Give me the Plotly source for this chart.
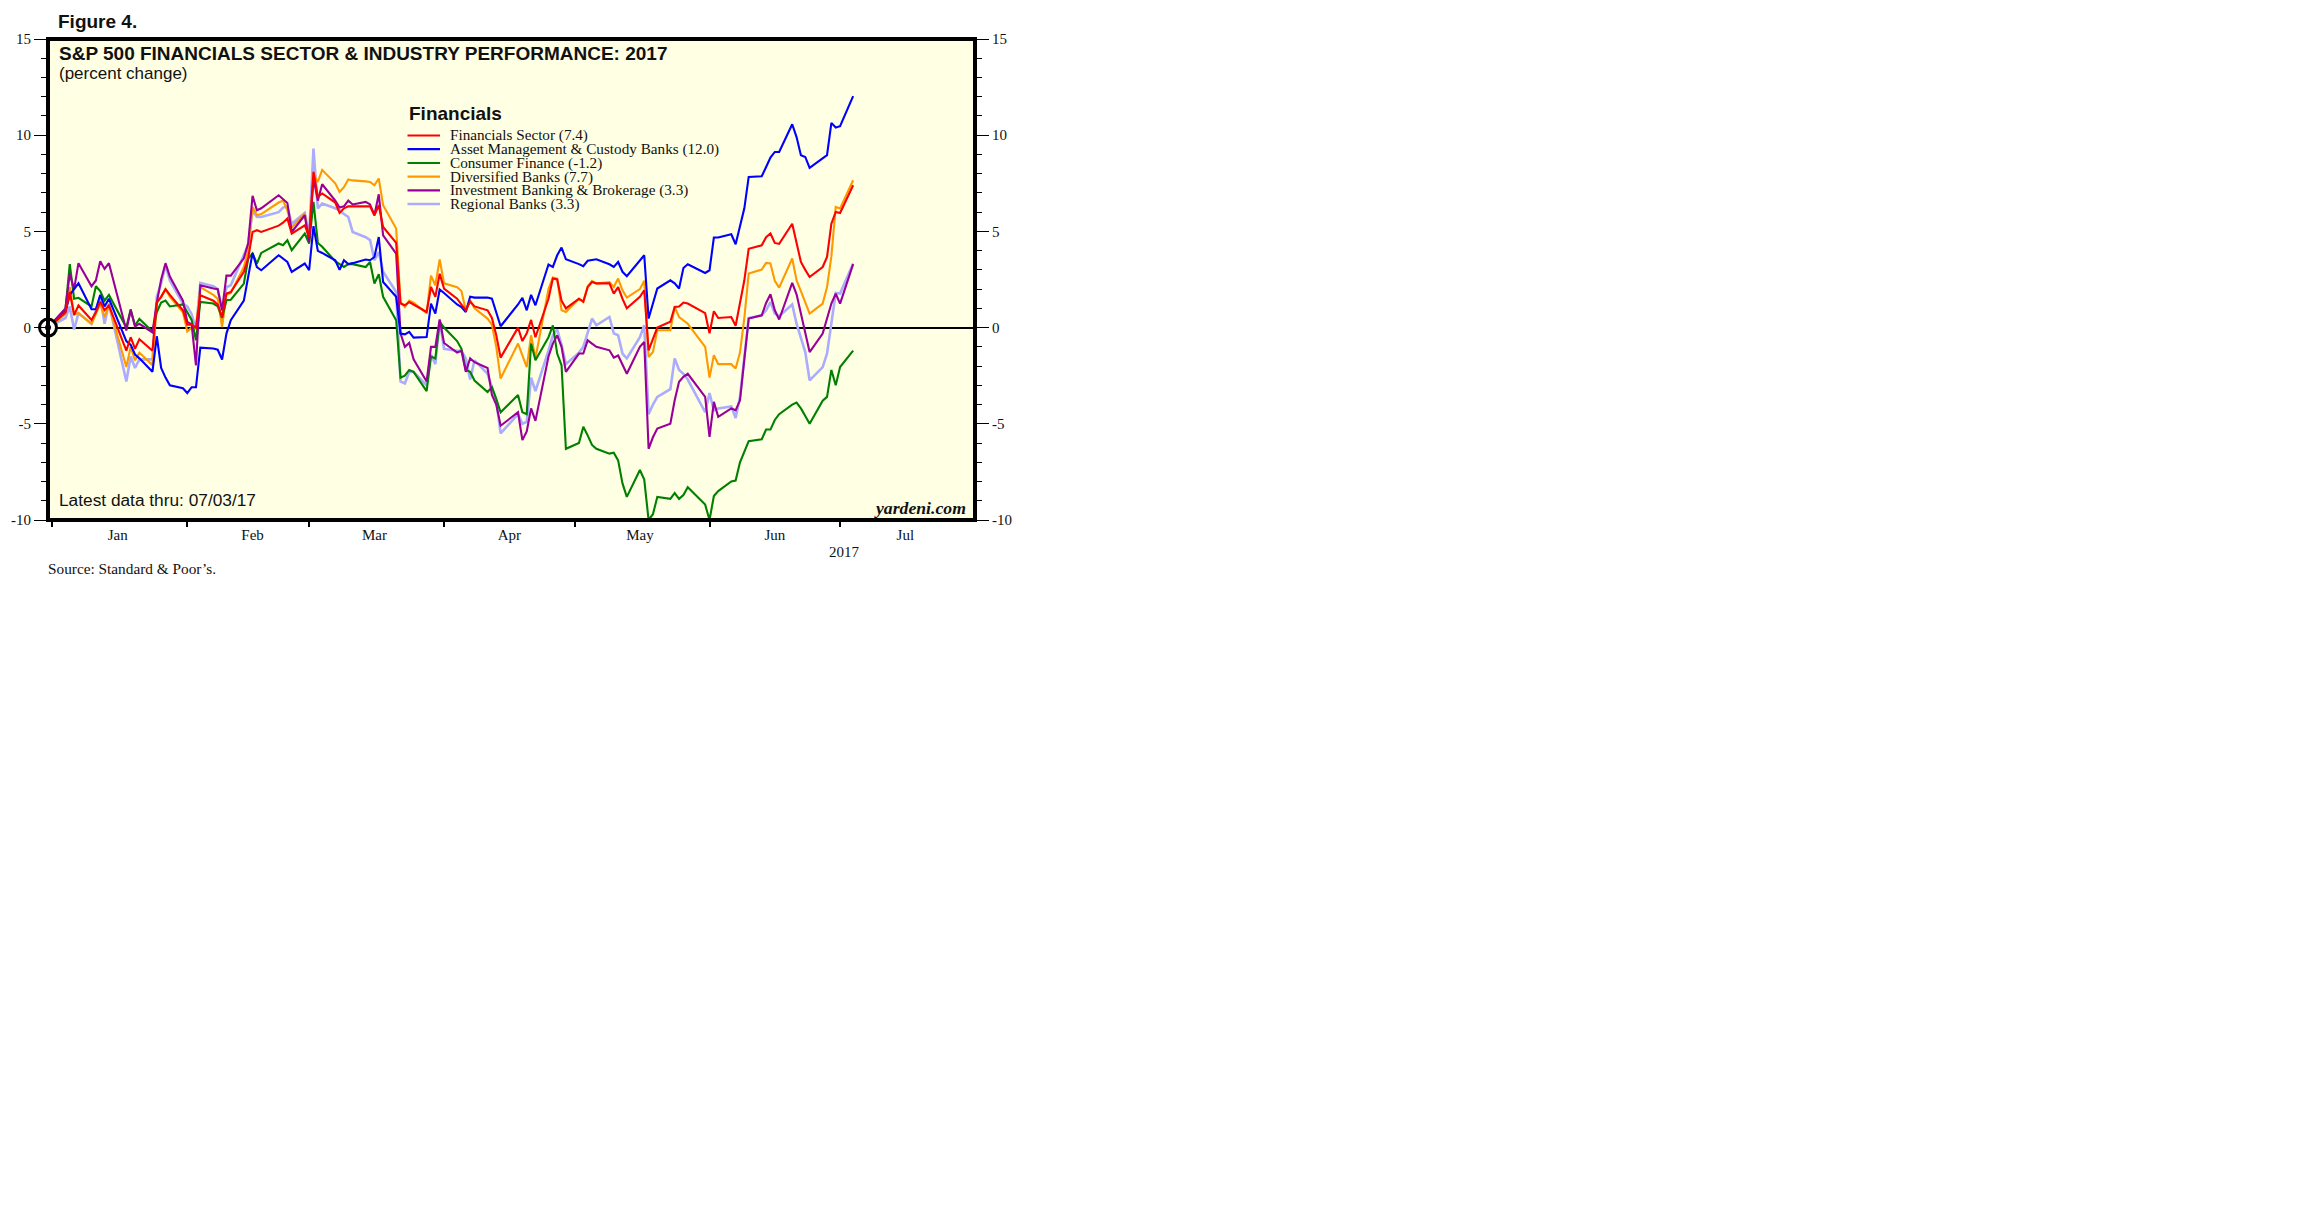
import plotly.graph_objects as go

# ---------------- data ----------------
trading_days = {
    "2016-12": [30],
    "2017-01": [3, 4, 5, 6, 9, 10, 11, 12, 13, 17, 18, 19, 20, 23, 24, 25, 26, 27, 30, 31],
    "2017-02": [1, 2, 3, 6, 7, 8, 9, 10, 13, 14, 15, 16, 17, 21, 22, 23, 24, 27, 28],
    "2017-03": [1, 2, 3, 6, 7, 8, 9, 10, 13, 14, 15, 16, 17, 20, 21, 22, 23, 24, 27, 28, 29, 30, 31],
    "2017-04": [3, 4, 5, 6, 7, 10, 11, 12, 13, 17, 18, 19, 20, 21, 24, 25, 26, 27, 28],
    "2017-05": [1, 2, 3, 4, 5, 8, 9, 10, 11, 12, 15, 16, 17, 18, 19, 22, 23, 24, 25, 26, 30, 31],
    "2017-06": [1, 2, 5, 6, 7, 8, 9, 12, 13, 14, 15, 16, 19, 20, 21, 22, 23, 26, 27, 28, 29, 30],
    "2017-07": [3],
}
dates = [f"{ym}-{d:02d}" for ym, days in trading_days.items() for d in days]

financials_sector = [
    0, 0.8, 1.85, 0.65, 1.15, 0.4, 0.8, 1.35, 0.9, 1.15,
    -1.2, -0.5, -1.1, -0.6, -1.2, 1.3, 1.6, 2.0, 1.7, 0.9,
    0.15, 0.15, 0.0, 1.68, 1.4, 1.2, 0.55, 1.77, 1.85, 2.9,
    3.6, 4.97, 5.06, 4.97, 5.3, 5.45, 5.67, 4.89, 5.32, 4.71,
    8.1, 6.8, 6.97, 6.5, 5.96, 6.2, 6.3, 6.3, 6.3, 6.3,
    5.84, 6.36, 5.23, 4.4, 1.25, 1.16, 1.33, 1.2, 0.81, 2.11,
    1.6, 2.8, 2.03, 1.5, 1.2, 0.9, 1.35, 1.1, 0.9, 0.5,
    -0.4, -1.56, 0.0, -0.7, -0.3, 0.4, -0.5, 1.5, 2.55, 2.5,
    1.4, 1.0, 1.5, 1.35, 2.1, 2.37, 2.3, 2.3, 1.77, 2.1,
    1.5, 1.0, 1.6, 1.94, -1.18, -0.6, 0.0, 0.3, 1.07, 1.1,
    1.3, 1.25, 0.75, -0.3, 0.85, 0.5, 0.55, 0.1, 1.3, 2.46,
    4.1, 4.28, 4.7, 4.89, 4.4, 4.35, 5.4, 4.35, 3.41, 3.0,
    2.63, 3.15, 3.67, 5.4, 6.01, 5.96, 7.4,
]
asset_mgmt = [
    0, 0.8, 1.7, 2.0, 2.3, 0.95, 0.95, 1.7, 1.1, 1.5,
    -0.7, -0.9, -1.4, -1.6, -2.3, -0.45, -2.1, -2.6, -3.0, -3.15,
    -3.4, -3.1, -3.1, -1.04, -1.09, -1.15, -1.66, -0.31, 0.38, 1.4,
    2.7, 3.88, 3.15, 2.98, 3.76, 3.59, 3.41, 2.89, 3.33, 2.98,
    5.27, 3.99, 3.88, 3.5, 3.0, 3.5, 3.3, 3.35, 3.54, 3.5,
    3.67, 4.71, 2.37, 1.6, -0.31, -0.35, -0.22, -0.52, -0.49, 1.25,
    0.73, 1.98, 1.8, 1.2, 1.07, 0.81, 1.6, 1.56, 1.56, 1.5,
    0.8, 0.07, 1.2, 1.55, 0.9, 1.7, 1.16, 3.28, 3.15, 3.76,
    4.16, 3.55, 3.3, 3.19, 3.47, 3.5, 3.55, 3.29, 3.15, 3.41,
    2.9, 2.67, 3.5, 3.76, 0.47, 1.3, 2.03, 2.46, 2.3, 2.03,
    3.1, 3.29, 2.84, 2.98, 4.68, 4.68, 4.85, 4.33, 5.2, 6.2,
    7.83, 7.87, 8.35, 8.84, 9.13, 9.13, 10.57, 9.9, 8.96, 8.87,
    8.3, 8.8, 8.96, 10.64, 10.4, 10.47, 12.03,
]
consumer_finance = [
    0, 0.9, 3.3, 1.5, 1.55, 1.1, 2.15, 1.9, 1.4, 1.7,
    0.0, 0.95, 0.1, 0.45, -0.2, 0.8, 1.3, 1.4, 1.1, 1.2,
    0.8, 0.4, -0.66, 1.33, 1.25, 1.1, 0.5, 1.42, 1.45, 2.29,
    3.59, 3.85, 3.33, 3.88, 4.37, 4.28, 4.54, 4.02, 4.89, 4.37,
    6.53, 4.4, 4.2, 3.45, 3.3, 3.15, 3.3, 3.3, 3.15, 3.41,
    2.29, 2.77, 1.6, 0.38, -2.6, -2.5, -2.2, -2.3, -3.3, -1.5,
    -1.6, 0.3, 0.0, -0.7, -1.1, -2.2, -2.3, -2.75, -3.35, -3.1,
    -3.7, -4.4, -3.5, -4.4, -4.5, -0.83, -1.7, -0.5, 0.12, -1.35,
    -1.96, -6.3, -6.0, -5.15, -5.6, -6.1, -6.3, -6.55, -6.5, -6.9,
    -8.1, -8.8, -7.4, -7.9, -10.0, -9.7, -8.8, -8.9, -8.6, -8.9,
    -8.7, -8.3, -9.2, -10.0, -8.75, -8.5, -8.0, -7.95, -7.0, -6.4,
    -5.9, -5.8, -5.3, -5.3, -4.8, -4.5, -4.0, -3.9, -4.2, -4.6,
    -5.0, -3.8, -3.6, -2.2, -3.0, -2.05, -1.2,
]
diversified_banks = [
    0, 0.7, 2.1, 0.7, 0.75, 0.2, 0.7, 1.25, 0.55, 1.15,
    -2.05, -1.0, -1.7, -1.3, -1.95, 1.3, 1.6, 2.0, 1.6, 0.8,
    -0.2, 0.0, -0.05, 2.1, 1.7, 1.5, 0.03, 1.7, 1.8, 3.15,
    4.0, 6.27, 5.84, 5.9, 6.5, 6.6, 6.1, 5.2, 5.93, 4.54,
    8.0, 7.57, 8.2, 7.5, 7.05, 7.3, 7.7, 7.65, 7.6, 7.57,
    7.4, 7.75, 6.36, 5.15, 1.33, 1.07, 1.4, 1.3, 0.75, 2.7,
    2.2, 3.54, 2.3, 2.1, 1.9, 0.9, 1.42, 1.0, 0.47, 0.15,
    -1.0, -2.65, -0.83, -1.5, -2.05, -0.4, -1.6, 2.0, 2.6, 2.55,
    0.9, 0.81, 1.5, 1.33, 2.15, 2.43, 2.29, 2.37, 2.11, 2.55,
    1.94, 1.56, 2.0, 2.43, -1.53, -1.27, -0.14, -0.14, 1.07, 0.55,
    0.38, 0.2, -1.0, -2.6, -1.44, -1.9, -1.9, -2.13, -1.3, 0.5,
    2.81, 3.02, 3.36, 3.33, 2.43, 2.08, 3.59, 2.46, 1.9, 1.33,
    0.73, 1.25, 2.11, 3.7, 6.27, 6.19, 7.66,
]
investment_banking = [
    0, 1.0, 2.8, 2.0, 3.35, 2.15, 2.45, 3.45, 3.05, 3.35,
    -0.15, 0.9, 0.05, 0.2, -0.25, 1.3, 2.5, 3.35, 2.65, 1.4,
    0.3, 0.17, -1.96, 2.2, 2.03, 2.0, 0.9, 2.7, 2.7, 3.6,
    4.4, 6.85, 6.1, 6.2, 6.88, 6.7, 6.48, 4.97, 5.84, 4.45,
    7.75, 6.6, 7.45, 6.6, 6.24, 6.3, 6.6, 6.4, 6.53, 6.4,
    5.84, 6.93, 4.8, 3.85, -0.3, -1.0, -0.8, -1.65, -2.8, -1.0,
    -1.0, 0.42, -0.8, -1.3, -1.2, -2.3, -1.6, -1.8, -2.1, -3.5,
    -4.0, -5.1, -4.4, -5.85, -5.4, -4.2, -4.85, -1.5, -0.83, -0.4,
    -1.0, -2.3, -1.35, -1.35, -0.66, -0.83, -1.0, -1.18, -1.56, -1.45,
    -1.9, -2.4, -1.0, -0.75, -6.3, -5.7, -5.25, -5.0, -3.78, -2.82,
    -2.56, -2.4, -3.6, -5.68, -3.86, -4.64, -4.2, -4.3, -3.78, -1.5,
    0.47, 0.64, 1.28, 1.73, 0.9, 0.42, 2.32, 1.73, 0.75, -0.22,
    -1.27, -0.31, 0.47, 1.25, 1.77, 1.25, 3.3,
]
regional_banks = [
    0, 0.5, 1.1, -0.1, 0.75, 0.2, 0.9, 1.6, 0.2, 1.25,
    -2.8, -1.5, -2.1, -1.65, -1.65, 1.6, 2.3, 3.25, 2.45, 1.25,
    1.1, 0.7, -0.1, 2.32, 2.15, 2.0, 0.9, 2.1, 2.2, 3.85,
    4.3, 6.1, 5.75, 5.75, 6.0, 6.24, 6.3, 5.4, 5.96, 4.8,
    9.3, 6.2, 6.45, 6.2, 6.1, 5.9, 5.75, 4.97, 4.7, 4.55,
    3.5, 3.93, 2.9, 1.85, -2.8, -2.9, -2.3, -2.3, -3.0, -1.4,
    -1.9, 0.38, -1.1, -1.2, -1.2, -1.6, -2.7, -1.7, -2.4, -3.1,
    -3.8, -5.5, -4.5, -5.0, -4.9, -2.6, -3.3, -1.2, -0.4, -0.1,
    -0.9, -1.9, -1.3, -1.0, -0.2, 0.47, 0.12, 0.55, -0.3, -0.4,
    -1.35, -1.6, -0.5, 0.12, -4.5, -4.0, -3.6, -3.2, -1.6, -2.2,
    -2.4, -2.7, -4.4, -3.4, -4.3, -4.2, -4.1, -4.7, -3.6, -1.5,
    0.5, 0.64, 0.9, 1.33, 0.73, 0.6, 1.2, 0.2, -0.5, -1.27,
    -2.74, -2.05, -1.35, 0.3, 1.8, 1.77, 3.33,
]

series_names = ["Financials Sector", "Asset Management & Custody Banks", "Consumer Finance",
                "Diversified Banks", "Investment Banking & Brokerage", "Regional Banks"]
series_values = [financials_sector, asset_mgmt, consumer_finance,
                 diversified_banks, investment_banking, regional_banks]
series_colors = ["#FF0000", "#0000FF", "#008000", "#FF9900", "#990099", "#ABABFF"]

y_tick_values = [-10, -5, 0, 5, 10, 15]
y_tick_labels = ["-10", "-5", "0", "5", "10", "15"]
month_labels = ["Jan", "Feb", "Mar", "Apr", "May", "Jun", "Jul"]
month_label_dates = ["2017-01-15", "2017-02-15", "2017-03-15", "2017-04-15",
                     "2017-05-15", "2017-06-15", "2017-07-15"]
month_end_dates = ["2016-12-31", "2017-01-31", "2017-02-28", "2017-03-31",
                   "2017-04-30", "2017-05-31", "2017-06-30"]

# ---------------- figure ----------------
W, H = 2280, 1200
L, T, PW, PH = 40, 31, 927, 481

SANS = "Liberation Sans, Arial, sans-serif"
SERIF = "Liberation Serif, Times New Roman, serif"
INK = "#111111"

fig = go.Figure()

draw_order = [5, 3, 2, 4, 1, 0]
for i in draw_order:
    fig.add_trace(go.Scatter(
        x=dates, y=series_values[i], mode="lines", name=series_names[i],
        line=dict(color=series_colors[i], width=2.6 if i == 5 else 2.1),
        showlegend=False, hoverinfo="skip"))

# base point marker
fig.add_trace(go.Scatter(x=[dates[0]], y=[0], mode="markers",
                         marker=dict(size=17, color="white", line=dict(color="black", width=3)),
                         cliponaxis=False, showlegend=False, hoverinfo="skip"))
fig.add_trace(go.Scatter(x=[dates[0]], y=[0], mode="markers",
                         marker=dict(size=6, color="black"),
                         cliponaxis=False, showlegend=False, hoverinfo="skip"))
# activates the right-hand axis
fig.add_trace(go.Scatter(x=[None], y=[None], yaxis="y2", showlegend=False, hoverinfo="skip"))

yaxis_common = dict(
    range=[-10, 15], tickmode="array", tickvals=y_tick_values, ticktext=y_tick_labels,
    ticks="outside", ticklen=13, tickwidth=1.3, automargin=False,
    tickcolor="black", showgrid=False, showline=False,
    tickfont=dict(family=SERIF, size=15, color=INK),
    minor=dict(tickmode="linear", tick0=0, dtick=1, ticks="outside", ticklen=6,
               tickwidth=1.3, tickcolor="black", showgrid=False),
)

fig.update_layout(
    width=W, height=H,
    margin=dict(l=L, t=T, r=W - L - PW, b=H - T - PH, pad=0, autoexpand=False),
    paper_bgcolor="white", plot_bgcolor="#FFFFE4",
    showlegend=False,
    xaxis=dict(
        type="date", range=["2016-12-30", "2017-07-31"], automargin=False,
        tickmode="array", tickvals=month_label_dates, ticktext=month_labels,
        ticks="", showgrid=False, zeroline=False, showline=False,
        ticklabelstandoff=4,
        tickfont=dict(family=SERIF, size=15, color=INK),
        minor=dict(tickmode="array", tickvals=month_end_dates, ticks="outside",
                   ticklen=6, tickwidth=2, tickcolor="black", showgrid=False),
    ),
    yaxis=dict(**yaxis_common, zeroline=True, zerolinecolor="black", zerolinewidth=1.5),
    yaxis2=dict(**yaxis_common, overlaying="y", side="right", zeroline=False),
)

# plot frame
fig.add_shape(type="rect", xref="paper", yref="paper", x0=0, x1=1, y0=0, y1=1,
              line=dict(color="black", width=4), layer="above")


def px_x(xp):
    return (xp - 48) / PW


def px_y(yp):
    return (520 - yp) / PH


def note(text, x, y, font, size, xanchor="left", color=INK):
    fig.add_annotation(text=text, xref="paper", yref="paper", x=x, y=y,
                       xanchor=xanchor, yanchor="middle", showarrow=False,
                       font=dict(family=font, size=size, color=color))


note("<b>Figure 4.</b>", px_x(56), px_y(21), SANS, 19)
note("<b>S&P 500 FINANCIALS SECTOR & INDUSTRY PERFORMANCE: 2017</b>", px_x(57), px_y(53), SANS, 19)
note("(percent change)", px_x(57), px_y(73), SANS, 17)
note("<b>Financials</b>", px_x(407), px_y(114), SANS, 19)

row_y = [135.5, 149.2, 163, 176.7, 190.4, 204]
for k in range(6):
    yy = px_y(row_y[k])
    fig.add_shape(type="line", xref="paper", yref="paper",
                  x0=px_x(407.5), x1=px_x(440), y0=yy, y1=yy,
                  line=dict(color=series_colors[k], width=2.2 if k != 5 else 2.6))
    label = f"{series_names[k]} ({series_values[k][-1]:.1f})"
    note(label, px_x(448), yy, SERIF, 15.2)

note("Latest data thru: 07/03/17", px_x(56.5), px_y(500), SANS, 17.3)
note("<b><i>yardeni.com</i></b>", px_x(968), px_y(508), SERIF, 17.7, xanchor="right")
note("Source: Standard & Poor’s.", px_x(46), px_y(568), SERIF, 15.3)
note("2017", px_x(844), px_y(552), SERIF, 15, xanchor="center")

fig.write_html("out.html")
